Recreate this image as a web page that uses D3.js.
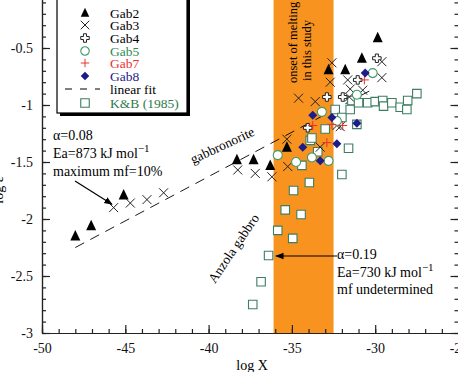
<!DOCTYPE html>
<html>
<head>
<meta charset="utf-8">
<script src="https://cdn.jsdelivr.net/npm/d3@7"></script>
<style>
  body { margin: 0; background: #fff; }
  svg { display: block; font-family: "Liberation Serif", "Times New Roman", serif; }
</style>
</head>
<body>
<script>
// data (log X, log y)
var gab2 = [[-48.0,-2.15],[-47.05,-2.06],[-45.1,-1.79],[-38.3,-1.48],[-37.3,-1.48],[-36.3,-1.53],
            [-35.3,-1.37],[-32.8,-0.69],[-31.8,-0.69],[-30.8,-0.59],[-29.85,-0.41]];
var gab3 = [[-45.7,-1.90],[-44.7,-1.86],[-43.7,-1.83],[-42.7,-1.77],[-38.25,-1.57],[-37.2,-1.60],
            [-36.2,-1.63],[-35.25,-1.54],[-35.3,-1.30],[-34.6,-0.94],[-33.6,-0.97],[-33.3,-1.37],
            [-32.7,-0.80],[-32.6,-0.63],[-32.3,-1.18],[-31.65,-0.78],[-31.5,-0.86],[-31.55,-0.93],
            [-29.6,-0.62],[-29.6,-0.76],[-30.75,-0.87],[-32.1,-1.19]];
var gab4 = [[-29.9,-0.59],[-31.05,-0.78],[-31.95,-0.93],[-32.9,-0.93],[-34.05,-1.20]];
var gab5 = [[-30.15,-0.72],[-31.1,-0.91],[-33.2,-1.06],[-32.3,-1.14],[-35.85,-1.44],
            [-34.75,-1.50],[-33.8,-1.46],[-32.8,-1.49]];
var gab7 = [[-30.65,-0.78],[-33.75,-1.18],[-32.6,-1.17],[-31.95,-1.18],[-32.9,-1.33]];
var gab8 = [[-30.6,-0.72],[-33.75,-1.09],[-32.6,-1.11],[-31.1,-1.16],[-34.35,-1.37],
            [-32.3,-1.34],[-33.3,-1.49]];
var kb85 = [[-37.35,-2.75],[-36.85,-2.55],[-36.4,-2.32],[-35.85,-2.10],[-34.95,-2.17],[-35.4,-1.92],
            [-34.45,-1.96],[-34.9,-1.75],[-34.4,-1.53],[-33.95,-1.68],[-33.45,-1.41],[-33.9,-1.31],
            [-33.0,-1.21],[-33.8,-1.29],[-32.0,-1.61],[-31.6,-1.38],[-32.4,-1.04],[-32.0,-1.11],
            [-31.1,-1.17],[-31.5,-1.04],[-31.4,-0.96],[-31.0,-0.98],[-30.45,-0.98],[-30.0,-0.97],
            [-29.55,-0.96],[-29.5,-1.01],[-29.0,-0.98],[-28.5,-1.02],[-28.05,-0.96],[-28.1,-1.04],
            [-27.5,-0.90]];
var fitLine = [[-48.0,-2.25],[-30.0,-0.85]];
var onsetBand = [-36.1, -32.5];
var xTicks = [-50,-45,-40,-35,-30,-25];
var yTicks = [-3,-2.5,-2,-1.5,-1,-0.5];

var series = [
  {name:"Gab2", data:gab2, sym:"tri", color:"#000"},
  {name:"Gab3", data:gab3, sym:"x", color:"#000"},
  {name:"Gab4", data:gab4, sym:"pluso", color:"#000"},
  {name:"Gab5", data:gab5, sym:"circle", color:"#3f9a6a"},
  {name:"Gab7", data:gab7, sym:"plus", color:"#e8322c"},
  {name:"Gab8", data:gab8, sym:"diamond", color:"#1c1c8a"}
];

var width = 458, height = 372;

var x = d3.scaleLinear().domain([-50, -25]).range([42, 458.5]);
var y = d3.scaleLinear().domain([-3, 0]).range([333, -9]);

var svg = d3.select("body").append("svg")
    .attr("width", width)
    .attr("height", height);

// orange band: onset of melting
svg.append("rect")
    .attr("x", x(onsetBand[0]))
    .attr("y", y(0))
    .attr("width", x(onsetBand[1]) - x(onsetBand[0]))
    .attr("height", y(-3) - y(0))
    .attr("fill", "#f7931e");

svg.append("text")
    .attr("transform", "translate(297,83) rotate(-90)")
    .attr("font-size", 12.5)
    .text("onset of melting");
svg.append("text")
    .attr("transform", "translate(311,81) rotate(-90)")
    .attr("font-size", 12.5)
    .text("in this study");

// linear fit
svg.append("path")
    .attr("d", d3.line().x(d => x(d[0])).y(d => y(d[1]))(fitLine))
    .attr("fill", "none")
    .attr("stroke", "#000")
    .attr("stroke-width", 0.9)
    .attr("stroke-dasharray", "10,7");

// marker shapes
function marker(sym, s) {
  var h = s / 2;
  if (sym == "tri") return "M0," + (-h - 1) + "L" + h + "," + (h - 0.5) + "L" + (-h) + "," + (h - 0.5) + "Z";
  if (sym == "x") return "M" + (-h) + "," + (-h) + "L" + h + "," + h + "M" + h + "," + (-h) + "L" + (-h) + "," + h;
  if (sym == "plus") return "M" + (-h) + ",0L" + h + ",0M0," + (-h) + "L0," + h;
  if (sym == "diamond") return "M0," + (-h) + "L" + h + ",0L0," + h + "L" + (-h) + ",0Z";
  if (sym == "square") return "M" + (-h) + "," + (-h) + "h" + s + "v" + s + "h" + (-s) + "Z";
  if (sym == "circle") return d3.symbol(d3.symbolCircle, Math.PI * h * h)();
  if (sym == "pluso") {
    var a = h, b = h * 0.36;
    return "M" + (-b) + "," + (-a) + "H" + b + "V" + (-b) + "H" + a + "V" + b + "H" + b + "V" + a +
           "H" + (-b) + "V" + b + "H" + (-a) + "V" + (-b) + "H" + (-b) + "Z";
  }
}

function drawMarks(g, sym, color, size) {
  if (sym == "tri") g.attr("fill", "#000").attr("stroke", "none");
  else if (sym == "x") g.attr("fill", "none").attr("stroke", "#222").attr("stroke-width", 1);
  else if (sym == "plus") g.attr("fill", "none").attr("stroke", color).attr("stroke-width", 1);
  else if (sym == "diamond") g.attr("fill", color).attr("stroke", "none");
  else if (sym == "pluso") g.attr("fill", "#fff").attr("stroke", "#222").attr("stroke-width", 1);
  else g.attr("fill", "#fff").attr("stroke", color).attr("stroke-width", 1.1);
  g.attr("d", marker(sym, size));
}

// K&B squares drawn first
svg.append("g").selectAll("path")
    .data(kb85).enter().append("path")
    .attr("transform", d => "translate(" + x(d[0]) + "," + y(d[1]) + ")")
    .call(drawMarks, "square", "#3d7d62", 8.5);

series.forEach(function(s) {
  var size = s.sym == "tri" ? 10 : s.sym == "pluso" ? 8.5 : 9;
  svg.append("g").selectAll("path")
      .data(s.data).enter().append("path")
      .attr("transform", d => "translate(" + x(d[0]) + "," + y(d[1]) + ")")
      .call(drawMarks, s.sym, s.color, size);
});

// axes
var fmt = d => String(d);
var minorX = d3.range(-50, -24, 1);
var minorY = d3.range(-30, 1, 1).map(d => d / 10);

svg.append("g").attr("transform", "translate(0," + y(-3) + ")")
    .call(d3.axisBottom(x).tickValues(minorX).tickSize(-4).tickSizeOuter(0).tickFormat(""));
svg.append("g").attr("transform", "translate(0," + y(-3) + ")")
    .call(d3.axisBottom(x).tickValues(xTicks).tickSize(-8).tickSizeOuter(0).tickPadding(10).tickFormat(fmt));
svg.append("g").attr("transform", "translate(" + x(-50) + ",0)")
    .call(d3.axisLeft(y).tickValues(minorY).tickSize(-4).tickSizeOuter(0).tickFormat(""));
svg.append("g").attr("transform", "translate(" + x(-50) + ",0)")
    .call(d3.axisLeft(y).tickValues(yTicks).tickSize(-8).tickSizeOuter(0).tickPadding(9).tickFormat(fmt));
svg.append("g").attr("transform", "translate(" + x(-25) + ",0)")
    .call(d3.axisRight(y).tickValues(minorY).tickSize(-4).tickSizeOuter(0).tickFormat(""));
svg.append("g").attr("transform", "translate(" + x(-25) + ",0)")
    .call(d3.axisRight(y).tickValues(yTicks).tickSize(-8).tickSizeOuter(0).tickFormat(""));

svg.selectAll(".domain, .tick line").attr("stroke", "#222").attr("stroke-width", 1.2);
svg.selectAll(".tick text").attr("font-size", 14).attr("fill", "#111")
    .attr("font-family", "Liberation Serif, serif");

svg.append("text")
    .attr("x", 252).attr("y", 370)
    .attr("text-anchor", "middle")
    .attr("font-size", 14)
    .text("log X");
svg.append("text")
    .attr("transform", "translate(3,190) rotate(-90)")
    .attr("text-anchor", "middle")
    .attr("font-size", 14)
    .text("log ε");

// legend
var lg = svg.append("g");
lg.append("rect").attr("x", 60).attr("y", -5).attr("width", 130).attr("height", 121).attr("fill", "#000");
lg.append("rect").attr("x", 57).attr("y", -8).attr("width", 130).attr("height", 121)
    .attr("fill", "#fff").attr("stroke", "#000").attr("stroke-width", 1.2);

var legendRows = series.map(s => ({name: s.name, sym: s.sym, color: s.color}));
legendRows.push({name: "linear fit", sym: "line", color: "#000"});
legendRows.push({name: "K&B (1985)", sym: "square", color: "#3d7d62"});
var rowY = [13, 25, 38, 51, 63, 76, 89, 103];

legendRows.forEach(function(r, i) {
  if (r.sym == "line") {
    lg.append("line").attr("x1", 65).attr("x2", 100).attr("y1", rowY[i]).attr("y2", rowY[i])
        .attr("stroke", "#000").attr("stroke-width", 1).attr("stroke-dasharray", "7,8");
  } else {
    lg.append("path").attr("transform", "translate(85," + rowY[i] + ")")
        .call(drawMarks, r.sym, r.color, 8.5);
  }
  lg.append("text").attr("x", 110).attr("y", rowY[i] + 4.5)
      .attr("font-size", 13.5)
      .attr("fill", r.sym == "square" ? "#2f7a4a" : r.name == "Gab5" ? "#2f8a4f" : r.color)
      .text(r.name);
});

// annotations
svg.append("defs").append("marker")
    .attr("id", "ah").attr("viewBox", "0 0 10 10").attr("refX", 9).attr("refY", 5)
    .attr("markerWidth", 7).attr("markerHeight", 7).attr("orient", "auto")
  .append("path").attr("d", "M0,1L10,5L0,9Z").attr("fill", "#000");

function note(lines, x0, y0, dy) {
  lines.forEach(function(l, i) {
    var t = svg.append("text").attr("x", x0).attr("y", y0 + i * dy).attr("font-size", 14);
    t.append("tspan").text(l[0]);
    if (l[1]) t.append("tspan").attr("dy", -6).attr("font-size", 11).text(l[1]);
  });
}
note([["α=0.08"], ["Ea=873 kJ mol", "−1"], ["maximum mf=10%"]], 53, 140, 18);
note([["α=0.19"], ["Ea=730 kJ mol", "−1"], ["mf undetermined"]], 337, 259, 17.5);

svg.append("line").attr("x1", 75).attr("y1", 181).attr("x2", x(-45.8)).attr("y2", y(-1.87))
    .attr("stroke", "#000").attr("stroke-width", 1.2).attr("marker-end", "url(#ah)");
svg.append("line").attr("x1", 337).attr("y1", 256).attr("x2", 276).attr("y2", 256)
    .attr("stroke", "#000").attr("stroke-width", 1.2).attr("marker-end", "url(#ah)");

svg.append("text")
    .attr("transform", "translate(193,164) rotate(-25)")
    .attr("font-size", 13.5)
    .text("gabbronorite");
svg.append("text")
    .attr("transform", "translate(215,284) rotate(-56)")
    .attr("font-size", 13.5)
    .text("Anzola gabbro");
</script>
</body>
</html>
